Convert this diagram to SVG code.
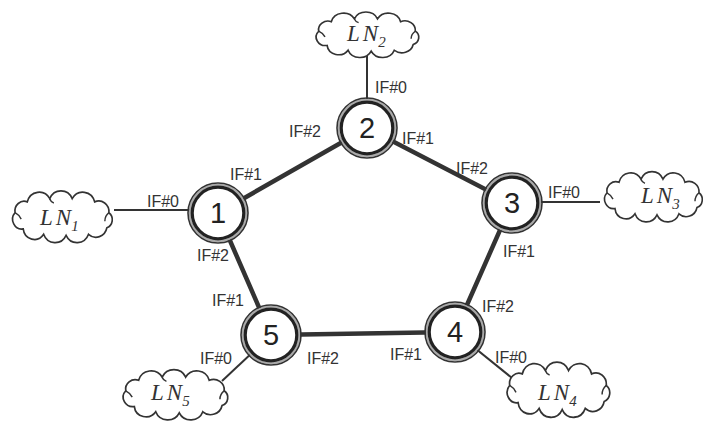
<svg xmlns="http://www.w3.org/2000/svg" width="707" height="422" viewBox="0 0 707 422">
<style>
.edge{stroke:#333;stroke-width:4.5;stroke-linecap:round;fill:none}
.spoke{stroke:#333;stroke-width:2;fill:none}
.gap{fill:#fff;stroke:#aaa;stroke-width:2}
.outer{fill:none;stroke:#333;stroke-width:1.6}
.inner{fill:none;stroke:#222;stroke-width:3.2}
.num{font-family:"Liberation Sans",Arial,sans-serif;font-size:29px;fill:#222;text-anchor:middle}
.lbl{font-family:"Liberation Sans",Arial,sans-serif;font-size:16px;fill:#333}
.ln{font-family:"Liberation Serif","Times New Roman",serif;font-style:italic;font-size:23px;fill:#333}
.sub{font-size:15px}
.cloud{fill:#fff;stroke:#333;stroke-width:1.6;vector-effect:non-scaling-stroke}
.curl{fill:none;stroke:#333;stroke-width:1.4;vector-effect:non-scaling-stroke}
</style>
<defs>
<path id="cloudShape" d="M -46,-4 A 9 9 0 0 1 -34,-14 A 12 12 0 0 1 -12,-17 A 12 12 0 0 1 10,-17 A 12 12 0 0 1 32,-14 A 10 10 0 0 1 46,-4 A 8 8 0 0 1 44,10 A 11 11 0 0 1 26,16 A 12 12 0 0 1 4,17 A 12 12 0 0 1 -18,16 A 11 11 0 0 1 -38,11 A 9 9 0 0 1 -46,-4 Z"/>
<path id="cloudCurl" d="M -46,-4 q 4,2 6,6 M 46,-4 q -4,3 -4,8 M -12,-17 q 1,3 4,4"/>
</defs>

<g id="connectors">
<line class="edge" x1="218" y1="213" x2="367" y2="128"/>
<line class="edge" x1="367" y1="128" x2="512" y2="203"/>
<line class="edge" x1="512" y1="203" x2="455" y2="332"/>
<line class="edge" x1="455" y1="332" x2="271" y2="335"/>
<line class="edge" x1="271" y1="335" x2="218" y2="213"/>
<line class="spoke" x1="367" y1="128" x2="367" y2="56"/>
<line class="spoke" x1="218" y1="210" x2="114" y2="210"/>
<line class="spoke" x1="512" y1="202" x2="600" y2="202"/>
<line class="spoke" x1="455" y1="332" x2="512" y2="378"/>
<line class="spoke" x1="271" y1="335" x2="222" y2="381"/>
</g>

<g id="LN2">
<g transform="translate(367,35) scale(1.05,0.95)"><use href="#cloudShape" class="cloud"/><use href="#cloudCurl" class="curl"/></g>
<text class="ln" x="347" y="41">L<tspan dx="3">N</tspan><tspan class="sub" dy="6">2</tspan></text>
</g>
<g id="LN1">
<g transform="translate(62,217) scale(1.02,1.08)"><use href="#cloudShape" class="cloud"/><use href="#cloudCurl" class="curl"/></g>
<text class="ln" x="40" y="225">L<tspan dx="3">N</tspan><tspan class="sub" dy="6">1</tspan></text>
</g>
<g id="LN3">
<g transform="translate(653,197) scale(1.0,1.05)"><use href="#cloudShape" class="cloud"/><use href="#cloudCurl" class="curl"/></g>
<text class="ln" x="641" y="203">L<tspan dx="3">N</tspan><tspan class="sub" dy="6">3</tspan></text>
</g>
<g id="LN4">
<g transform="translate(558,390) scale(1.05,1.15)"><use href="#cloudShape" class="cloud"/><use href="#cloudCurl" class="curl"/></g>
<text class="ln" x="538" y="400">L<tspan dx="3">N</tspan><tspan class="sub" dy="6">4</tspan></text>
</g>
<g id="LN5">
<g transform="translate(175,395) scale(1.07,1.05)"><use href="#cloudShape" class="cloud"/><use href="#cloudCurl" class="curl"/></g>
<text class="ln" x="151" y="400">L<tspan dx="3">N</tspan><tspan class="sub" dy="6">5</tspan></text>
</g>

<g id="node1">
<circle class="gap" cx="218" cy="213" r="28.2"/>
<circle class="outer" cx="218" cy="213" r="30"/>
<circle class="inner" cx="218" cy="213" r="25.8"/>
<text class="num" x="218" y="223">1</text>
<text class="lbl" x="230" y="180">IF#1</text>
<text class="lbl" x="147" y="207">IF#0</text>
<text class="lbl" x="197" y="261">IF#2</text>
</g>
<g id="node2">
<circle class="gap" cx="367" cy="128" r="28.2"/>
<circle class="outer" cx="367" cy="128" r="30"/>
<circle class="inner" cx="367" cy="128" r="25.8"/>
<text class="num" x="367" y="138">2</text>
<text class="lbl" x="375" y="93">IF#0</text>
<text class="lbl" x="289" y="137">IF#2</text>
<text class="lbl" x="402" y="144">IF#1</text>
</g>
<g id="node3">
<circle class="gap" cx="512" cy="203" r="28.2"/>
<circle class="outer" cx="512" cy="203" r="30"/>
<circle class="inner" cx="512" cy="203" r="25.8"/>
<text class="num" x="512" y="213">3</text>
<text class="lbl" x="456" y="174">IF#2</text>
<text class="lbl" x="548" y="198">IF#0</text>
<text class="lbl" x="503" y="257">IF#1</text>
</g>
<g id="node4">
<circle class="gap" cx="455" cy="332" r="28.2"/>
<circle class="outer" cx="455" cy="332" r="30"/>
<circle class="inner" cx="455" cy="332" r="25.8"/>
<text class="num" x="455" y="342">4</text>
<text class="lbl" x="482" y="312">IF#2</text>
<text class="lbl" x="390" y="360">IF#1</text>
<text class="lbl" x="495" y="363">IF#0</text>
</g>
<g id="node5">
<circle class="gap" cx="271" cy="335" r="28.2"/>
<circle class="outer" cx="271" cy="335" r="30"/>
<circle class="inner" cx="271" cy="335" r="25.8"/>
<text class="num" x="271" y="345">5</text>
<text class="lbl" x="212" y="306">IF#1</text>
<text class="lbl" x="200" y="364">IF#0</text>
<text class="lbl" x="307" y="364">IF#2</text>
</g>
</svg>
